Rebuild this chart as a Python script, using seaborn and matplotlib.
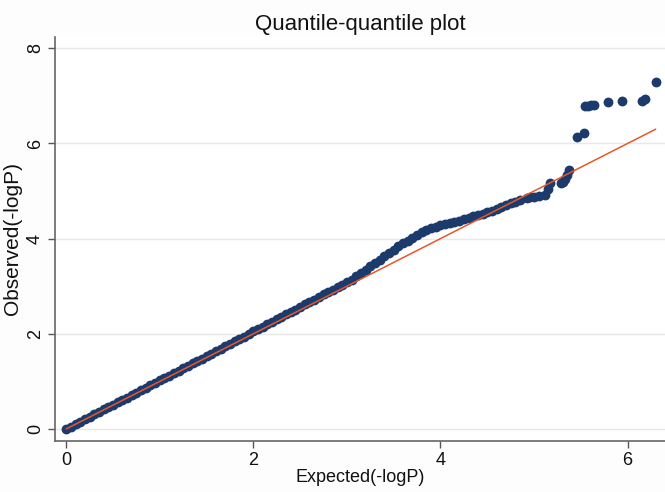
import numpy as np
import pandas as pd
import seaborn as sns
import matplotlib.pyplot as plt

expected = [0.00, 0.05, 0.10, 0.15, 0.20, 0.25, 0.30, 0.35, 0.40, 0.45,
            0.50, 0.55, 0.60, 0.65, 0.70, 0.75, 0.80, 0.85, 0.90, 0.95,
            1.00, 1.05, 1.10, 1.15, 1.20, 1.25, 1.30, 1.35, 1.40, 1.45,
            1.50, 1.55, 1.60, 1.65, 1.70, 1.75, 1.80, 1.85, 1.90, 1.95,
            2.00, 2.05, 2.10, 2.15, 2.20, 2.25, 2.30, 2.35, 2.40, 2.45,
            2.50, 2.55, 2.60, 2.65, 2.70, 2.75, 2.80, 2.85, 2.90, 2.95,
            3.00, 3.05, 3.10, 3.15, 3.20, 3.25, 3.30, 3.35, 3.40, 3.45,
            3.50, 3.55, 3.60, 3.65, 3.70, 3.75, 3.80, 3.85, 3.90, 3.95,
            4.00, 4.05, 4.10, 4.15, 4.20, 4.25, 4.30, 4.35, 4.40, 4.45,
            4.50, 4.55, 4.60, 4.65, 4.70, 4.75, 4.80, 4.85,
            4.93, 4.96, 5.00, 5.05, 5.12, 5.15, 5.17, 5.29, 5.31, 5.33,
            5.35, 5.37, 5.46, 5.53, 5.55, 5.58, 5.61, 5.64, 5.79, 5.94,
            6.15, 6.19, 6.30]
observed = [0.00, 0.05, 0.10, 0.15, 0.20, 0.25, 0.31, 0.36, 0.41, 0.46,
            0.51, 0.56, 0.61, 0.66, 0.71, 0.76, 0.82, 0.87, 0.92, 0.97,
            1.02, 1.07, 1.12, 1.17, 1.22, 1.28, 1.33, 1.38, 1.43, 1.48,
            1.53, 1.58, 1.63, 1.68, 1.74, 1.79, 1.84, 1.89, 1.94, 2.00,
            2.05, 2.10, 2.15, 2.20, 2.25, 2.31, 2.36, 2.41, 2.46, 2.51,
            2.57, 2.62, 2.67, 2.72, 2.77, 2.83, 2.88, 2.93, 2.98, 3.03,
            3.08, 3.14, 3.21, 3.28, 3.35, 3.42, 3.49, 3.56, 3.63, 3.70,
            3.77, 3.84, 3.90, 3.96, 4.02, 4.08, 4.14, 4.19, 4.22, 4.25,
            4.28, 4.30, 4.33, 4.35, 4.38, 4.41, 4.44, 4.47, 4.50, 4.52,
            4.55, 4.58, 4.62, 4.66, 4.70, 4.74, 4.78, 4.82,
            4.86, 4.87, 4.88, 4.90, 4.92, 5.05, 5.17, 5.17, 5.19, 5.25,
            5.33, 5.44, 6.13, 6.22, 6.78, 6.79, 6.80, 6.81, 6.87, 6.89,
            6.89, 6.93, 7.29]
ref_line = [0.0, 6.3]

df = pd.DataFrame({"expected": expected, "observed": observed})
ref = pd.DataFrame({"x": ref_line, "y": ref_line})

sns.set_style("white")
plt.rcParams["font.family"] = ["Liberation Sans", "DejaVu Sans"]
plt.rcParams["text.color"] = "#111111"
plt.rcParams["axes.labelcolor"] = "#111111"
plt.rcParams["xtick.labelcolor"] = "#111111"
plt.rcParams["ytick.labelcolor"] = "#111111"

fig = plt.figure(figsize=(6.65, 4.92), dpi=100)
fig.patch.set_facecolor("#fdfdfd")
ax = fig.add_axes([0.083, 0.104, 0.917, 0.821])

sns.scatterplot(data=df, x="expected", y="observed", color="#1c3a6b",
                s=50, linewidth=0, ax=ax, zorder=3)
sns.lineplot(data=ref, x="x", y="y", color="#e8572a", linewidth=1.1,
             ax=ax, zorder=4)

ax.set_xlim(-0.118, 6.40)
ax.set_ylim(-0.25, 8.24)
ax.set_xticks([0, 2, 4, 6])
ax.set_yticks([0, 2, 4, 6, 8])
ax.yaxis.grid(True, color="#e8e8e8", linewidth=1)
ax.tick_params(axis="both", direction="out", length=5, width=1,
               color="#555555", labelsize=13, left=True, bottom=True,
               pad=3)
for lab in ax.get_yticklabels():
    lab.set_rotation(90)
    lab.set_va("center")

for side in ["top", "right"]:
    ax.spines[side].set_visible(False)
for side in ["left", "bottom"]:
    ax.spines[side].set_color("#666666")
    ax.spines[side].set_linewidth(1.2)

ax.set_title("Quantile-quantile plot", fontsize=16, pad=5)
ax.set_xlabel("Expected(-logP)", fontsize=13, labelpad=0)
ax.set_ylabel("Observed(-logP)", fontsize=15, labelpad=4)

plt.savefig("out.png", dpi=100)
